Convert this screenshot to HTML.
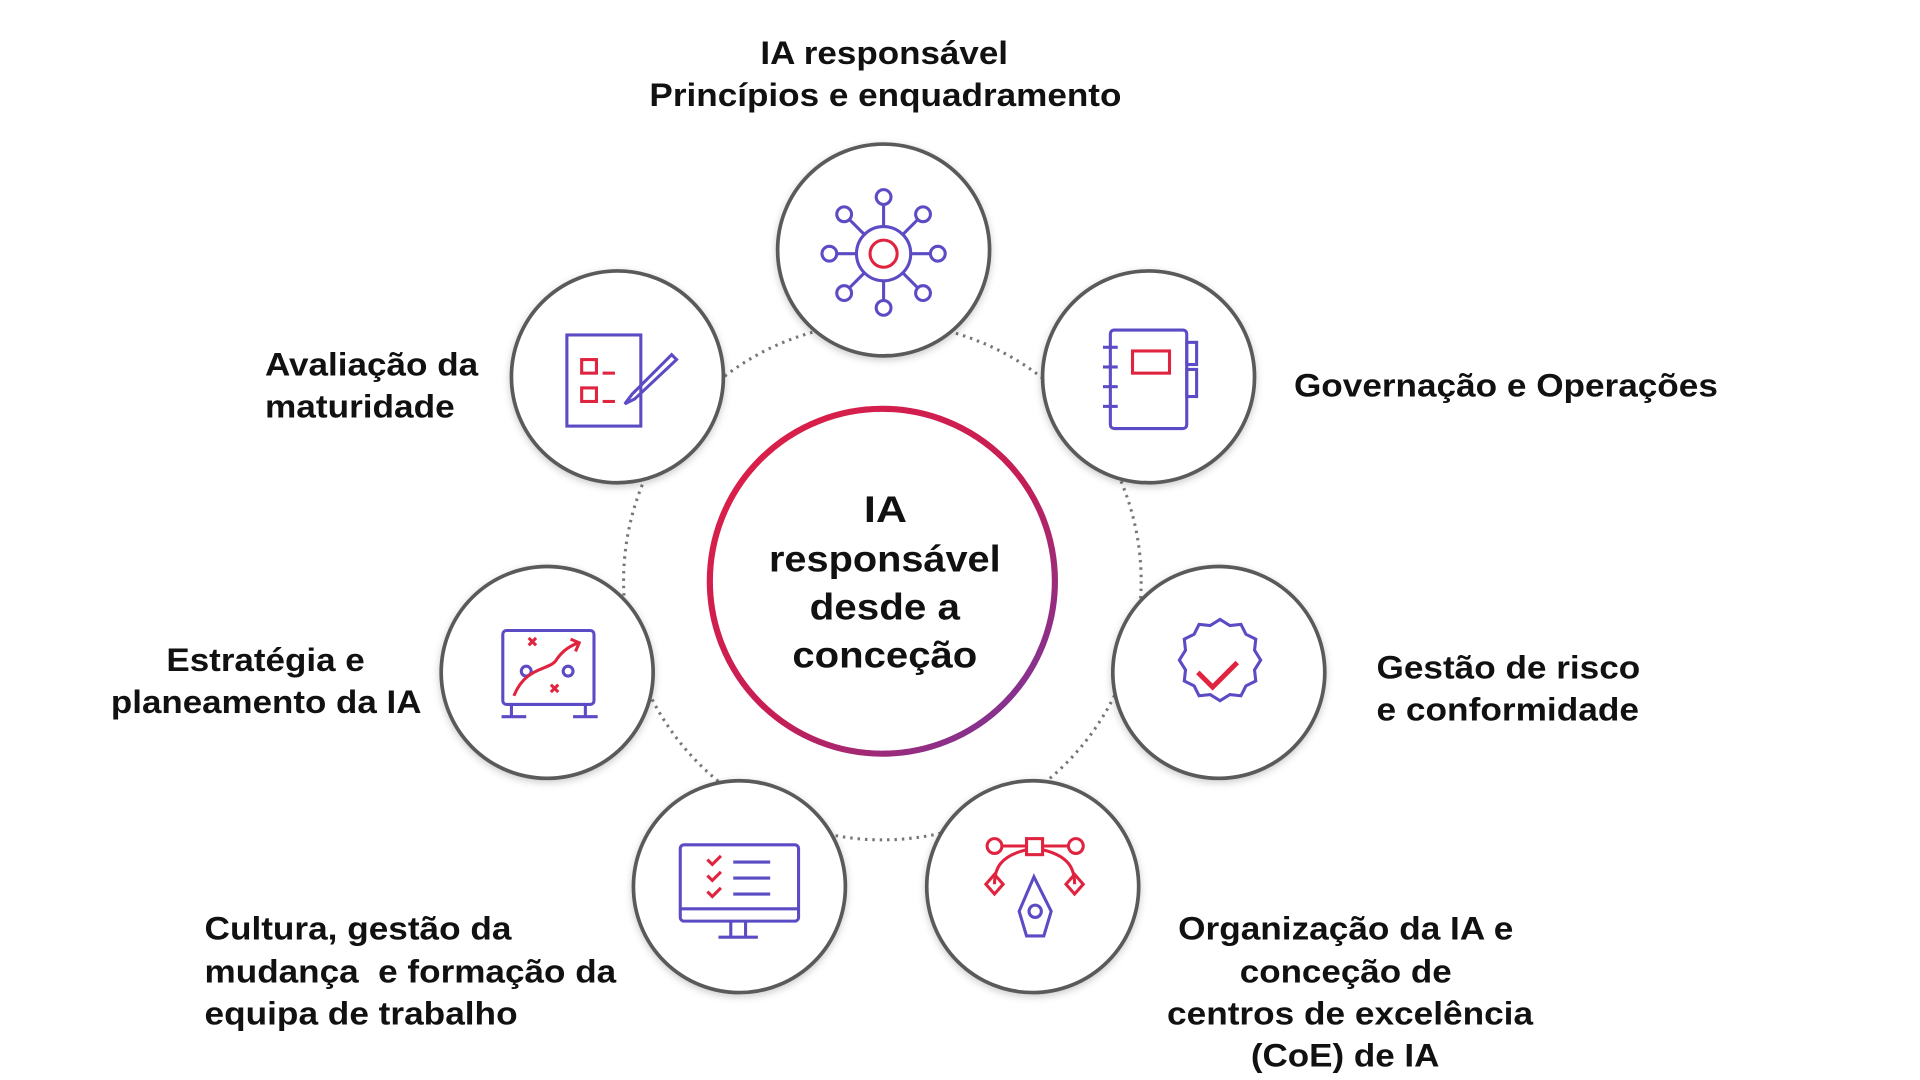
<!DOCTYPE html>
<html><head><meta charset="utf-8"><style>
html,body{margin:0;padding:0;background:#fff;}
svg{display:block;}
text{font-family:"Liberation Sans",Arial,sans-serif;font-weight:bold;fill:#111;}
</style></head><body>
<svg width="1920" height="1080" viewBox="0 0 1558 877" preserveAspectRatio="none" xmlns="http://www.w3.org/2000/svg">
<defs>
<linearGradient id="g" x1="0" y1="0" x2="1" y2="1">
<stop offset="0" stop-color="#e01f45"/><stop offset="0.55" stop-color="#c51e55"/><stop offset="1" stop-color="#6a3aa8"/>
</linearGradient>
<filter id="sh" x="-20%" y="-20%" width="140%" height="140%"><feDropShadow dx="0" dy="2" stdDeviation="3" flood-color="#000" flood-opacity="0.2"/></filter>
</defs>
<circle cx="716" cy="472" r="210" fill="none" stroke="#777" stroke-width="2.5" stroke-dasharray="2 4"/>
<circle cx="716" cy="472" r="140" fill="#fff" stroke="url(#g)" stroke-width="5"/>
<g fill="#fff" stroke="#5a5a5a" stroke-width="3" filter="url(#sh)">
<circle cx="717" cy="203" r="86"/>
<circle cx="932" cy="306" r="86"/>
<circle cx="989" cy="546" r="86"/>
<circle cx="838" cy="720" r="86"/>
<circle cx="600" cy="720" r="86"/>
<circle cx="444" cy="546" r="86"/>
<circle cx="501" cy="306" r="86"/>
</g>
<g transform="translate(-3,0)">
<g fill="none" stroke="#5b4bc4" stroke-width="2.5">
<circle cx="720" cy="206" r="22"/>
<line x1="720" y1="184" x2="720" y2="166"/><circle cx="720" cy="160" r="6"/>
<line x1="720" y1="228" x2="720" y2="244"/><circle cx="720" cy="250" r="6"/>
<line x1="698" y1="206" x2="682" y2="206"/><circle cx="676" cy="206" r="6"/>
<line x1="742" y1="206" x2="758" y2="206"/><circle cx="764" cy="206" r="6"/>
<line x1="704" y1="190" x2="692" y2="178"/><circle cx="688" cy="174" r="6"/>
<line x1="736" y1="190" x2="748" y2="178"/><circle cx="752" cy="174" r="6"/>
<line x1="704" y1="222" x2="692" y2="234"/><circle cx="688" cy="238" r="6"/>
<line x1="736" y1="222" x2="748" y2="234"/><circle cx="752" cy="238" r="6"/>
<rect x="904" y="268" width="62" height="80" rx="3"/>
<line x1="898" y1="282" x2="910" y2="282"/><line x1="898" y1="298" x2="910" y2="298"/><line x1="898" y1="314" x2="910" y2="314"/><line x1="898" y1="330" x2="910" y2="330"/>
<rect x="966" y="278" width="8" height="18"/><rect x="966" y="300" width="8" height="22"/>
<rect x="463" y="272" width="60" height="74"/>
<path d="M548 288 L516 320 L510 328 L518 324 L552 292 Z"/>
<rect x="411" y="512" width="74" height="60" rx="3"/>
<line x1="418" y1="572" x2="418" y2="582"/><line x1="478" y1="572" x2="478" y2="582"/>
<line x1="410" y1="582" x2="430" y2="582"/><line x1="468" y1="582" x2="488" y2="582"/>
<circle cx="430" cy="545" r="4"/><circle cx="464" cy="545" r="4"/>
<path d="M993 503 l8 5 9-1 4 8 8 4-1 9 5 8-5 8 1 9-8 4-4 8-9-1-8 5-8-5-9 1-4-8-8-4 1-9-5-8 5-8-1-9 8-4 4-8 9 1z"/>
<rect x="555" y="686" width="96" height="62" rx="3"/>
<line x1="555" y1="738" x2="651" y2="738"/>
<line x1="596" y1="748" x2="596" y2="760"/><line x1="608" y1="748" x2="608" y2="760"/><line x1="586" y1="761" x2="618" y2="761"/>
<line x1="598" y1="700" x2="628" y2="700"/><line x1="598" y1="713" x2="628" y2="713"/><line x1="598" y1="726" x2="628" y2="726"/>
<path d="M842 712 L830 740 L836 760 L850 760 L856 740 Z"/><circle cx="843" cy="740" r="5"/>
</g>
<g fill="none" stroke="#e0233f" stroke-width="2.5">
<circle cx="720" cy="206" r="11"/>
<rect x="922" y="285" width="30" height="18"/>
<rect x="475" y="292" width="12" height="11"/><rect x="475" y="315" width="12" height="11"/>
<line x1="492" y1="303" x2="502" y2="303"/><line x1="492" y1="326" x2="502" y2="326"/>
<path d="M420 565 C430 540 450 545 455 535 C460 528 465 525 472 522"/><path d="M466 519 l7 3 -3 7"/>
<path d="M432 518 l6 6 M438 518 l-6 6 M450 556 l6 6 M456 556 l-6 6"/>
<path d="M975 546 l12 12 20 -20" stroke-width="4"/>
<path d="M577 698 l4 4 7-7 M577 711 l4 4 7-7 M577 724 l4 4 7-7"/>
<rect x="836" y="681" width="13" height="13"/><circle cx="810" cy="687" r="6"/><circle cx="876" cy="687" r="6"/>
<line x1="816" y1="687" x2="836" y2="687"/><line x1="849" y1="687" x2="870" y2="687"/>
<path d="M836 690 C815 695 810 705 810 718 M849 690 C870 695 875 705 875 718"/>
<path d="M810 710 l7 8 -7 8 -7 -8z M875 710 l7 8 -7 8 -7 -8z"/>
</g>
</g>
<g font-size="26" lengthAdjust="spacingAndGlyphs">
<text x="617" y="52" textLength="201" lengthAdjust="spacingAndGlyphs">IA responsável</text>
<text x="527" y="86" textLength="383" lengthAdjust="spacingAndGlyphs">Princípios e enquadramento</text>
<text x="215" y="305" textLength="173" lengthAdjust="spacingAndGlyphs">Avaliação da</text>
<text x="215" y="339" textLength="154" lengthAdjust="spacingAndGlyphs">maturidade</text>
<text x="1050" y="322" textLength="344" lengthAdjust="spacingAndGlyphs">Governação e Operações</text>
<text x="135" y="545" textLength="161" lengthAdjust="spacingAndGlyphs">Estratégia e</text>
<text x="90" y="579" textLength="252" lengthAdjust="spacingAndGlyphs">planeamento da IA</text>
<text x="1117" y="551" textLength="214" lengthAdjust="spacingAndGlyphs">Gestão de risco</text>
<text x="1117" y="585" textLength="213" lengthAdjust="spacingAndGlyphs">e conformidade</text>
<text x="166" y="763" textLength="249" lengthAdjust="spacingAndGlyphs">Cultura, gestão da</text>
<text x="166" y="798" textLength="334" lengthAdjust="spacingAndGlyphs" xml:space="preserve">mudança  e formação da</text>
<text x="166" y="832" textLength="254" lengthAdjust="spacingAndGlyphs">equipa de trabalho</text>
<text x="956" y="763" textLength="272" lengthAdjust="spacingAndGlyphs">Organização da IA e</text>
<text x="1006" y="798" textLength="172" lengthAdjust="spacingAndGlyphs">conceção de</text>
<text x="947" y="832" textLength="297" lengthAdjust="spacingAndGlyphs">centros de excelência</text>
<text x="1015" y="866" textLength="153" lengthAdjust="spacingAndGlyphs">(CoE) de IA</text>
</g>
<g font-size="30">
<text x="701" y="424" textLength="35" lengthAdjust="spacingAndGlyphs">IA</text>
<text x="624" y="464" textLength="188" lengthAdjust="spacingAndGlyphs">responsável</text>
<text x="657" y="503" textLength="122" lengthAdjust="spacingAndGlyphs">desde a</text>
<text x="643" y="542" textLength="150" lengthAdjust="spacingAndGlyphs">conceção</text>
</g>
</svg>
</body></html>
